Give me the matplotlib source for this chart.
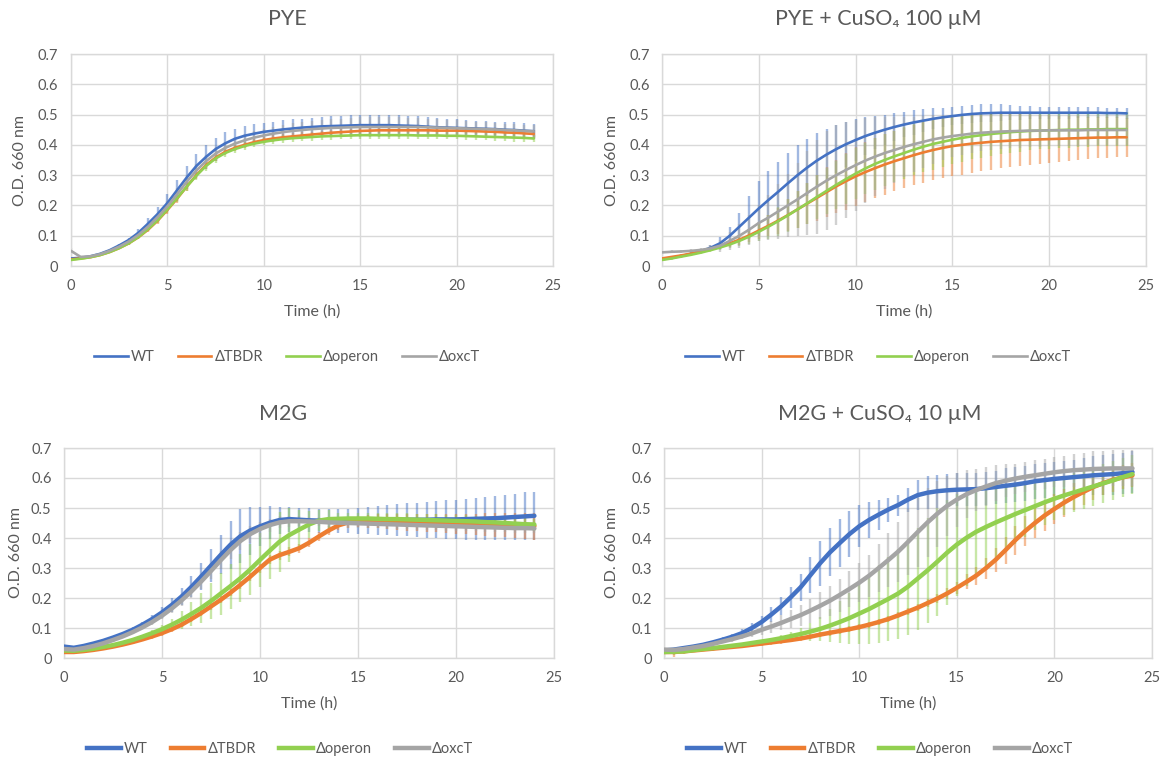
import numpy as np
import matplotlib
matplotlib.use("Agg")
import matplotlib.pyplot as plt
from matplotlib.lines import Line2D

plt.rcParams.update({
    "font.family": ["Lato", "DejaVu Sans"],
    "text.color": "#595959",
    "axes.labelcolor": "#595959",
    "xtick.color": "#595959",
    "ytick.color": "#595959",
})

W, H = 1169, 762

# ── Data (OD660, sampled every 0.5 h; rows of 7 = 3.5 h) ─────────────────────
TIME = np.arange(0, 24.5, 0.5)
STRAINS = ["WT", "ΔTBDR", "Δoperon", "ΔoxcT"]
COLORS = ["#4472C4", "#ED7D31", "#92D050", "#A5A5A5"]

# PYE
PYE_WT = [0.025, 0.027, 0.032, 0.040, 0.052, 0.068, 0.086,
          0.110, 0.140, 0.172, 0.208, 0.250, 0.292, 0.330,
          0.360, 0.386, 0.405, 0.420, 0.430, 0.437, 0.443,
          0.447, 0.451, 0.454, 0.457, 0.459, 0.461, 0.462,
          0.463, 0.464, 0.465, 0.465, 0.465, 0.465, 0.464,
          0.463, 0.462, 0.460, 0.458, 0.457, 0.456, 0.455,
          0.454, 0.453, 0.452, 0.450, 0.449, 0.447, 0.445]
PYE_TBDR = [0.022, 0.025, 0.029, 0.036, 0.046, 0.059, 0.075,
            0.095, 0.120, 0.150, 0.185, 0.222, 0.262, 0.300,
            0.333, 0.358, 0.377, 0.390, 0.400, 0.409, 0.416,
            0.421, 0.425, 0.428, 0.431, 0.434, 0.437, 0.440,
            0.442, 0.444, 0.446, 0.447, 0.448, 0.448, 0.448,
            0.448, 0.448, 0.448, 0.447, 0.447, 0.447, 0.446,
            0.445, 0.444, 0.443, 0.441, 0.440, 0.438, 0.436]
PYE_OPERON = [0.020, 0.024, 0.029, 0.036, 0.046, 0.059, 0.075,
              0.096, 0.122, 0.152, 0.187, 0.224, 0.262, 0.298,
              0.330, 0.355, 0.373, 0.386, 0.396, 0.404, 0.410,
              0.415, 0.419, 0.422, 0.424, 0.426, 0.428, 0.429,
              0.430, 0.431, 0.432, 0.432, 0.432, 0.432, 0.432,
              0.432, 0.431, 0.431, 0.431, 0.430, 0.430, 0.429,
              0.428, 0.427, 0.426, 0.425, 0.424, 0.423, 0.421]
PYE_OXCT = [0.050, 0.030, 0.032, 0.039, 0.050, 0.064, 0.081,
            0.103, 0.130, 0.162, 0.197, 0.237, 0.278, 0.315,
            0.346, 0.371, 0.390, 0.404, 0.415, 0.424, 0.431,
            0.437, 0.442, 0.446, 0.449, 0.452, 0.454, 0.456,
            0.457, 0.458, 0.459, 0.459, 0.459, 0.459, 0.459,
            0.459, 0.459, 0.458, 0.457, 0.456, 0.455, 0.454,
            0.453, 0.452, 0.451, 0.449, 0.448, 0.446, 0.445]
PYE_WT_SD = [0.003, 0.003, 0.003, 0.004, 0.005, 0.006, 0.008,
             0.012, 0.018, 0.024, 0.030, 0.035, 0.038, 0.040,
             0.040, 0.038, 0.036, 0.034, 0.032, 0.031, 0.030,
             0.030, 0.030, 0.030, 0.030, 0.030, 0.031, 0.032,
             0.033, 0.034, 0.035, 0.035, 0.035, 0.035, 0.034,
             0.033, 0.032, 0.031, 0.030, 0.029, 0.028, 0.027,
             0.026, 0.026, 0.025, 0.025, 0.025, 0.025, 0.025]
PYE_TBDR_SD = [0.002, 0.002, 0.002, 0.003, 0.003, 0.004, 0.005,
               0.006, 0.008, 0.010, 0.012, 0.013, 0.014, 0.014,
               0.013, 0.012, 0.011, 0.010, 0.010, 0.010, 0.010,
               0.010, 0.010, 0.010, 0.010, 0.010, 0.010, 0.010,
               0.010, 0.010, 0.010, 0.010, 0.010, 0.010, 0.010,
               0.010, 0.010, 0.010, 0.010, 0.010, 0.010, 0.010,
               0.010, 0.010, 0.011, 0.011, 0.011, 0.012, 0.012]
PYE_OPERON_SD = [0.002, 0.002, 0.002, 0.003, 0.003, 0.004, 0.005,
                 0.006, 0.008, 0.010, 0.012, 0.014, 0.015, 0.015,
                 0.015, 0.014, 0.013, 0.012, 0.012, 0.012, 0.012,
                 0.012, 0.012, 0.012, 0.012, 0.012, 0.012, 0.012,
                 0.012, 0.012, 0.012, 0.012, 0.012, 0.012, 0.012,
                 0.012, 0.012, 0.012, 0.012, 0.012, 0.012, 0.012,
                 0.012, 0.012, 0.012, 0.013, 0.013, 0.013, 0.013]
PYE_OXCT_SD = [0.010, 0.003, 0.003, 0.003, 0.004, 0.005, 0.006,
               0.008, 0.010, 0.013, 0.016, 0.019, 0.021, 0.022,
               0.022, 0.021, 0.020, 0.020, 0.020, 0.021, 0.022,
               0.023, 0.024, 0.025, 0.026, 0.027, 0.028, 0.029,
               0.030, 0.031, 0.032, 0.033, 0.033, 0.033, 0.032,
               0.031, 0.030, 0.029, 0.028, 0.027, 0.026, 0.025,
               0.024, 0.023, 0.022, 0.021, 0.020, 0.020, 0.020]

# PYE + CuSO4 100 uM
CU_WT = [0.022, 0.027, 0.033, 0.040, 0.049, 0.060, 0.075,
         0.100, 0.130, 0.160, 0.190, 0.218, 0.245, 0.273,
         0.300, 0.325, 0.348, 0.368, 0.386, 0.402, 0.416,
         0.429, 0.440, 0.450, 0.459, 0.467, 0.474, 0.480,
         0.486, 0.491, 0.495, 0.499, 0.502, 0.504, 0.505,
         0.506, 0.506, 0.506, 0.506, 0.506, 0.506, 0.506,
         0.506, 0.506, 0.506, 0.506, 0.505, 0.505, 0.504]
CU_TBDR = [0.025, 0.030, 0.035, 0.041, 0.048, 0.056, 0.065,
           0.075, 0.087, 0.101, 0.117, 0.133, 0.150, 0.168,
           0.187, 0.206, 0.225, 0.244, 0.263, 0.280, 0.296,
           0.310, 0.323, 0.335, 0.346, 0.356, 0.366, 0.375,
           0.383, 0.390, 0.396, 0.400, 0.404, 0.407, 0.410,
           0.412, 0.414, 0.416, 0.417, 0.418, 0.419, 0.420,
           0.421, 0.422, 0.423, 0.424, 0.424, 0.425, 0.425]
CU_OPERON = [0.020, 0.025, 0.031, 0.037, 0.044, 0.052, 0.061,
             0.071, 0.083, 0.097, 0.113, 0.130, 0.148, 0.167,
             0.187, 0.207, 0.228, 0.248, 0.268, 0.287, 0.305,
             0.322, 0.337, 0.350, 0.362, 0.373, 0.384, 0.394,
             0.403, 0.410, 0.417, 0.423, 0.428, 0.432, 0.436,
             0.439, 0.442, 0.444, 0.446, 0.447, 0.448, 0.449,
             0.450, 0.450, 0.451, 0.451, 0.452, 0.452, 0.452]
CU_OXCT = [0.045, 0.047, 0.048, 0.050, 0.053, 0.058, 0.067,
           0.083, 0.100, 0.120, 0.142, 0.160, 0.180, 0.200,
           0.220, 0.241, 0.262, 0.282, 0.300, 0.317, 0.333,
           0.348, 0.361, 0.373, 0.383, 0.393, 0.402, 0.410,
           0.418, 0.424, 0.429, 0.433, 0.437, 0.440, 0.442,
           0.444, 0.445, 0.446, 0.447, 0.447, 0.448, 0.448,
           0.448, 0.448, 0.449, 0.449, 0.449, 0.449, 0.449]
CU_WT_SD = [0.003, 0.003, 0.004, 0.005, 0.007, 0.010, 0.020,
            0.030, 0.045, 0.070, 0.090, 0.097, 0.100, 0.100,
            0.100, 0.095, 0.090, 0.085, 0.080, 0.075, 0.070,
            0.062, 0.055, 0.050, 0.045, 0.042, 0.040, 0.037,
            0.035, 0.032, 0.030, 0.030, 0.030, 0.030, 0.030,
            0.028, 0.025, 0.023, 0.021, 0.020, 0.020, 0.019,
            0.019, 0.018, 0.018, 0.018, 0.017, 0.017, 0.017]
CU_TBDR_SD = [0.003, 0.003, 0.003, 0.004, 0.005, 0.007, 0.010,
              0.013, 0.017, 0.022, 0.028, 0.035, 0.043, 0.052,
              0.060, 0.068, 0.075, 0.082, 0.088, 0.094, 0.098,
              0.100, 0.100, 0.100, 0.100, 0.100, 0.100, 0.100,
              0.100, 0.100, 0.100, 0.098, 0.096, 0.094, 0.092,
              0.090, 0.088, 0.085, 0.083, 0.080, 0.078, 0.076,
              0.074, 0.072, 0.070, 0.068, 0.067, 0.066, 0.065]
CU_OPERON_SD = [0.004, 0.004, 0.004, 0.004, 0.004, 0.006, 0.009,
                0.013, 0.018, 0.025, 0.032, 0.040, 0.048, 0.055,
                0.062, 0.068, 0.073, 0.077, 0.080, 0.082, 0.085,
                0.085, 0.085, 0.085, 0.085, 0.085, 0.085, 0.085,
                0.085, 0.083, 0.080, 0.078, 0.076, 0.074, 0.072,
                0.070, 0.068, 0.066, 0.064, 0.062, 0.061, 0.060,
                0.059, 0.058, 0.057, 0.056, 0.056, 0.055, 0.055]
CU_OXCT_SD = [0.006, 0.005, 0.005, 0.005, 0.005, 0.010, 0.020,
              0.030, 0.040, 0.050, 0.060, 0.075, 0.090, 0.105,
              0.120, 0.140, 0.155, 0.163, 0.165, 0.160, 0.150,
              0.140, 0.130, 0.120, 0.110, 0.100, 0.090, 0.085,
              0.080, 0.075, 0.070, 0.066, 0.063, 0.060, 0.058,
              0.057, 0.056, 0.055, 0.054, 0.053, 0.052, 0.052,
              0.051, 0.051, 0.050, 0.050, 0.050, 0.050, 0.050]

# M2G
M_WT = [0.038, 0.034, 0.040, 0.048, 0.057, 0.068, 0.080,
        0.094, 0.111, 0.130, 0.152, 0.177, 0.205, 0.237,
        0.272, 0.308, 0.344, 0.378, 0.406, 0.425, 0.439,
        0.451, 0.460, 0.463, 0.461, 0.459, 0.458, 0.457,
        0.456, 0.456, 0.457, 0.458, 0.459, 0.460, 0.460,
        0.461, 0.461, 0.461, 0.462, 0.462, 0.462, 0.463,
        0.464, 0.465, 0.466, 0.468, 0.470, 0.472, 0.474]
M_TBDR = [0.020, 0.020, 0.023, 0.027, 0.032, 0.038, 0.045,
          0.053, 0.062, 0.072, 0.083, 0.096, 0.111, 0.130,
          0.150, 0.172, 0.194, 0.218, 0.244, 0.271, 0.300,
          0.328, 0.343, 0.354, 0.366, 0.384, 0.405, 0.425,
          0.442, 0.452, 0.455, 0.456, 0.456, 0.455, 0.454,
          0.453, 0.452, 0.451, 0.450, 0.449, 0.448, 0.447,
          0.446, 0.445, 0.444, 0.443, 0.442, 0.441, 0.440]
M_OPERON = [0.025, 0.024, 0.027, 0.031, 0.037, 0.043, 0.051,
            0.060, 0.071, 0.083, 0.096, 0.111, 0.128, 0.147,
            0.167, 0.190, 0.215, 0.240, 0.266, 0.295, 0.327,
            0.358, 0.388, 0.410, 0.428, 0.445, 0.458, 0.463,
            0.464, 0.465, 0.465, 0.465, 0.464, 0.463, 0.463,
            0.462, 0.461, 0.460, 0.459, 0.458, 0.457, 0.456,
            0.455, 0.453, 0.452, 0.450, 0.448, 0.446, 0.445]
M_OXCT = [0.030, 0.028, 0.033, 0.040, 0.049, 0.060, 0.072,
          0.086, 0.102, 0.120, 0.141, 0.165, 0.192, 0.222,
          0.255, 0.290, 0.326, 0.360, 0.390, 0.413, 0.430,
          0.443, 0.452, 0.456, 0.456, 0.455, 0.454, 0.452,
          0.451, 0.450, 0.449, 0.448, 0.447, 0.446, 0.445,
          0.444, 0.443, 0.442, 0.441, 0.440, 0.439, 0.438,
          0.437, 0.436, 0.435, 0.434, 0.433, 0.433, 0.432]
M_WT_SD = [0.005, 0.005, 0.005, 0.005, 0.005, 0.005, 0.005,
           0.008, 0.010, 0.013, 0.017, 0.022, 0.028, 0.035,
           0.045, 0.055, 0.065, 0.080, 0.090, 0.080, 0.065,
           0.055, 0.045, 0.042, 0.040, 0.040, 0.040, 0.040,
           0.040, 0.040, 0.042, 0.045, 0.048, 0.050, 0.052,
           0.055, 0.057, 0.060, 0.062, 0.064, 0.066, 0.068,
           0.070, 0.072, 0.074, 0.076, 0.078, 0.080, 0.080]
M_TBDR_SD = [0.005, 0.005, 0.005, 0.005, 0.005, 0.005, 0.005,
             0.006, 0.006, 0.007, 0.008, 0.008, 0.009, 0.010,
             0.010, 0.011, 0.012, 0.012, 0.013, 0.014, 0.015,
             0.015, 0.015, 0.015, 0.015, 0.015, 0.015, 0.015,
             0.015, 0.017, 0.019, 0.021, 0.023, 0.025, 0.027,
             0.028, 0.029, 0.030, 0.031, 0.032, 0.033, 0.034,
             0.035, 0.037, 0.039, 0.041, 0.043, 0.044, 0.045]
M_OPERON_SD = [0.005, 0.005, 0.005, 0.005, 0.005, 0.005, 0.005,
               0.005, 0.005, 0.010, 0.015, 0.020, 0.030, 0.040,
               0.050, 0.060, 0.070, 0.075, 0.080, 0.085, 0.090,
               0.095, 0.100, 0.090, 0.065, 0.045, 0.035, 0.030,
               0.020, 0.020, 0.020, 0.020, 0.020, 0.020, 0.020,
               0.020, 0.020, 0.020, 0.020, 0.020, 0.020, 0.020,
               0.020, 0.020, 0.020, 0.020, 0.020, 0.020, 0.020]
M_OXCT_SD = [0.006, 0.006, 0.006, 0.006, 0.006, 0.006, 0.006,
             0.006, 0.006, 0.009, 0.012, 0.016, 0.020, 0.023,
             0.025, 0.028, 0.030, 0.030, 0.030, 0.028, 0.025,
             0.022, 0.020, 0.018, 0.016, 0.015, 0.015, 0.015,
             0.015, 0.015, 0.015, 0.015, 0.015, 0.015, 0.015,
             0.015, 0.015, 0.015, 0.015, 0.015, 0.015, 0.015,
             0.015, 0.015, 0.015, 0.015, 0.015, 0.015, 0.015]

# M2G + CuSO4 10 uM
MC_WT = [0.025, 0.028, 0.033, 0.038, 0.044, 0.052, 0.061,
         0.071, 0.083, 0.100, 0.120, 0.145, 0.172, 0.203,
         0.236, 0.276, 0.316, 0.352, 0.383, 0.413, 0.439,
         0.460, 0.478, 0.495, 0.510, 0.528, 0.543, 0.551,
         0.556, 0.559, 0.561, 0.562, 0.563, 0.566, 0.570,
         0.574, 0.578, 0.583, 0.589, 0.593, 0.597, 0.600,
         0.603, 0.606, 0.609, 0.611, 0.613, 0.616, 0.620]
MC_TBDR = [0.020, 0.020, 0.022, 0.025, 0.028, 0.031, 0.034,
           0.037, 0.040, 0.044, 0.048, 0.052, 0.056, 0.060,
           0.065, 0.071, 0.078, 0.084, 0.090, 0.096, 0.103,
           0.111, 0.120, 0.130, 0.142, 0.155, 0.168, 0.183,
           0.198, 0.215, 0.234, 0.254, 0.275, 0.300, 0.328,
           0.360, 0.393, 0.423, 0.450, 0.475, 0.497, 0.518,
           0.537, 0.554, 0.570, 0.583, 0.594, 0.602, 0.609]
MC_OPERON = [0.020, 0.021, 0.022, 0.026, 0.030, 0.033, 0.037,
             0.041, 0.045, 0.050, 0.055, 0.060, 0.066, 0.073,
             0.080, 0.088, 0.097, 0.108, 0.120, 0.133, 0.148,
             0.163, 0.180, 0.197, 0.215, 0.238, 0.265, 0.292,
             0.321, 0.351, 0.378, 0.401, 0.421, 0.437, 0.452,
             0.466, 0.480, 0.493, 0.506, 0.519, 0.531, 0.542,
             0.552, 0.562, 0.572, 0.582, 0.592, 0.603, 0.613]
MC_OXCT = [0.028, 0.027, 0.030, 0.035, 0.040, 0.047, 0.055,
           0.063, 0.072, 0.082, 0.094, 0.105, 0.117, 0.130,
           0.143, 0.158, 0.174, 0.191, 0.210, 0.230, 0.251,
           0.274, 0.300, 0.327, 0.355, 0.387, 0.420, 0.452,
           0.481, 0.507, 0.528, 0.546, 0.560, 0.572, 0.583,
           0.591, 0.598, 0.604, 0.609, 0.614, 0.619, 0.623,
           0.626, 0.628, 0.630, 0.631, 0.632, 0.632, 0.632]
MC_WT_SD = [0.005, 0.005, 0.005, 0.005, 0.005, 0.006, 0.008,
            0.010, 0.013, 0.016, 0.020, 0.025, 0.030, 0.035,
            0.045, 0.060, 0.075, 0.080, 0.080, 0.077, 0.070,
            0.060, 0.050, 0.040, 0.035, 0.040, 0.050, 0.055,
            0.055, 0.055, 0.055, 0.055, 0.055, 0.055, 0.055,
            0.058, 0.058, 0.058, 0.058, 0.058, 0.058, 0.058,
            0.058, 0.062, 0.064, 0.066, 0.068, 0.069, 0.070]
MC_TBDR_SD = [0.006, 0.015, 0.008, 0.006, 0.006, 0.006, 0.006,
              0.006, 0.006, 0.007, 0.007, 0.007, 0.008, 0.008,
              0.008, 0.008, 0.009, 0.009, 0.009, 0.010, 0.010,
              0.010, 0.010, 0.010, 0.010, 0.011, 0.012, 0.013,
              0.015, 0.017, 0.020, 0.025, 0.030, 0.035, 0.040,
              0.045, 0.048, 0.050, 0.050, 0.050, 0.049, 0.047,
              0.045, 0.044, 0.042, 0.041, 0.040, 0.040, 0.040]
MC_OPERON_SD = [0.015, 0.010, 0.005, 0.005, 0.005, 0.005, 0.005,
                0.005, 0.005, 0.005, 0.005, 0.008, 0.010, 0.015,
                0.020, 0.030, 0.040, 0.055, 0.070, 0.085, 0.100,
                0.115, 0.130, 0.140, 0.150, 0.160, 0.170, 0.175,
                0.180, 0.175, 0.170, 0.160, 0.150, 0.135, 0.120,
                0.110, 0.100, 0.090, 0.080, 0.075, 0.070, 0.065,
                0.065, 0.065, 0.065, 0.065, 0.065, 0.065, 0.065]
MC_OXCT_SD = [0.006, 0.006, 0.006, 0.006, 0.006, 0.006, 0.006,
              0.008, 0.010, 0.013, 0.016, 0.020, 0.025, 0.030,
              0.035, 0.040, 0.045, 0.050, 0.055, 0.060, 0.065,
              0.070, 0.080, 0.090, 0.100, 0.110, 0.115, 0.115,
              0.110, 0.100, 0.090, 0.080, 0.070, 0.065, 0.060,
              0.055, 0.050, 0.050, 0.050, 0.050, 0.050, 0.052,
              0.055, 0.057, 0.060, 0.060, 0.060, 0.060, 0.060]

# ── Layout (pixel boxes of each plot area and text anchors) ─────────────────
def px_rect(x0, x1, ytop, ybot):
    return [x0 / W, 1 - ybot / H, (x1 - x0) / W, (ybot - ytop) / H]

PANELS = [
    {"title": "PYE",
     "means": [PYE_WT, PYE_TBDR, PYE_OPERON, PYE_OXCT],
     "sds": [PYE_WT_SD, PYE_TBDR_SD, PYE_OPERON_SD, PYE_OXCT_SD],
     "box": (71, 553, 54, 266), "lw": 1.9,
     "title_xy": (287, 19), "ylab_x": 20, "xlab_y": 312, "leg_xy": (287, 357)},
    {"title": "PYE + CuSO\u2084 100 \u00b5M",
     "means": [CU_WT, CU_TBDR, CU_OPERON, CU_OXCT],
     "sds": [CU_WT_SD, CU_TBDR_SD, CU_OPERON_SD, CU_OXCT_SD],
     "box": (662, 1146, 54, 266), "lw": 1.9,
     "title_xy": (878, 19), "ylab_x": 612, "xlab_y": 312, "leg_xy": (878, 357)},
    {"title": "M2G",
     "means": [M_WT, M_TBDR, M_OPERON, M_OXCT],
     "sds": [M_WT_SD, M_TBDR_SD, M_OPERON_SD, M_OXCT_SD],
     "box": (64, 554, 448, 658), "lw": 3.2,
     "title_xy": (283, 414), "ylab_x": 16, "xlab_y": 704, "leg_xy": (280, 749)},
    {"title": "M2G + CuSO\u2084 10 \u00b5M",
     "means": [MC_WT, MC_TBDR, MC_OPERON, MC_OXCT],
     "sds": [MC_WT_SD, MC_TBDR_SD, MC_OPERON_SD, MC_OXCT_SD],
     "box": (664, 1152, 448, 658), "lw": 3.2,
     "title_xy": (880, 414), "ylab_x": 612, "xlab_y": 704, "leg_xy": (880, 749)},
]

fig = plt.figure(figsize=(W / 100, H / 100), dpi=100)

for p in PANELS:
    x0, x1, yt, yb = p["box"]
    ax = fig.add_axes(px_rect(x0, x1, yt, yb))

    for i, (m, s) in enumerate(zip(p["means"], p["sds"])):
        ax.errorbar(TIME, m, yerr=s, fmt="none", ecolor=COLORS[i],
                    elinewidth=1.7, alpha=0.5, capsize=0, zorder=2 + i * 0.1)
    for i, m in enumerate(p["means"]):
        ax.plot(TIME, m, color=COLORS[i], lw=p["lw"], zorder=3 + i * 0.1,
                solid_capstyle="round")

    ax.set_xlim(0, 25)
    ax.set_ylim(0, 0.7)
    ax.set_xticks(range(0, 26, 5))
    ax.set_yticks(np.arange(0, 0.71, 0.1))
    ax.set_yticklabels(["0", "0.1", "0.2", "0.3", "0.4", "0.5", "0.6", "0.7"])
    ax.tick_params(length=0, labelsize=10.5, pad=9)
    ax.grid(True, color="#D9D9D9", lw=1.0, zorder=0)
    ax.set_axisbelow(True)
    for sp in ax.spines.values():
        sp.set_color("#D9D9D9")
        sp.set_linewidth(1.0)

    tx, ty = p["title_xy"]
    fig.text(tx / W, 1 - ty / H, p["title"], ha="center", va="center",
             fontsize=15.5, color="#595959")
    fig.text(p["ylab_x"] / W, 1 - ((yt + yb) / 2) / H, "O.D. 660 nm",
             rotation=90, ha="center", va="center", fontsize=11.5,
             color="#595959")
    fig.text(((x0 + x1) / 2) / W, 1 - p["xlab_y"] / H, "Time (h)",
             ha="center", va="center", fontsize=11.5, color="#595959")

    handles = [Line2D([], [], color=c, lw=p["lw"]) for c in COLORS]
    lx, ly = p["leg_xy"]
    fig.legend(handles, STRAINS, loc="center", ncol=4, frameon=False,
               bbox_to_anchor=(lx / W, 1 - ly / H), fontsize=10.5,
               handlelength=2.3, handletextpad=0.2, columnspacing=1.6,
               labelcolor="#595959")

fig.savefig("out.png", dpi=100)
plt.close(fig)
